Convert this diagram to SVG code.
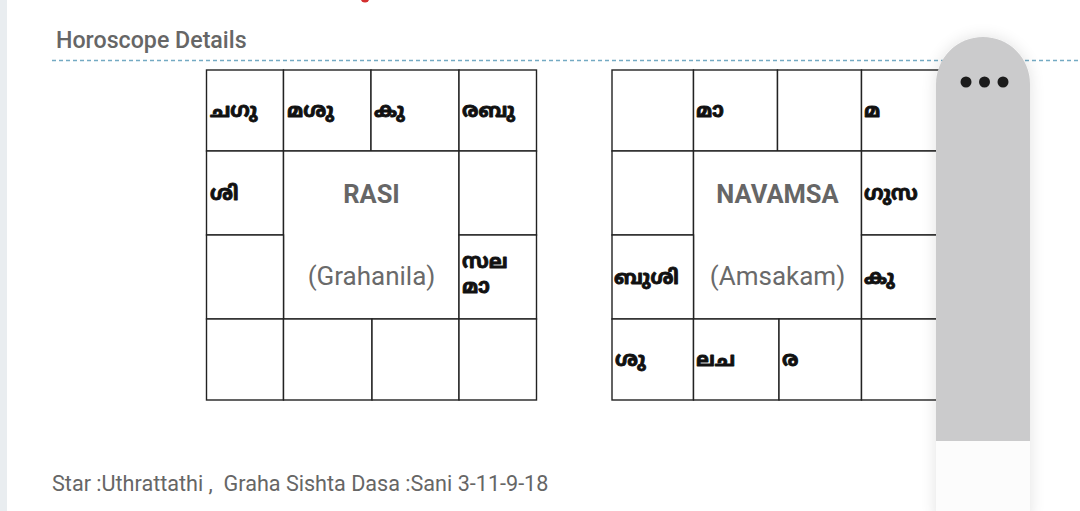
<svg xmlns="http://www.w3.org/2000/svg" width="1080" height="511" viewBox="0 0 1080 511">
<style>
.cell{fill:#ffffff;stroke:#222222;stroke-width:1.4}
.ml{font-family:"Noto Sans Malayalam","Noto Sans","DejaVu Sans",sans-serif;font-weight:bold;font-size:20px;fill:#111111;stroke:#111111;stroke-width:0.9;stroke-linejoin:round}
.title{font-family:Roboto,"Liberation Sans",sans-serif;font-weight:bold;font-size:25.5px;fill:#666666;text-anchor:middle}
.sub{font-family:Roboto,"Liberation Sans",sans-serif;font-size:26px;fill:#6a6a6a;text-anchor:middle}
.head{font-family:Roboto,"Liberation Sans",sans-serif;font-weight:500;font-size:23.2px;fill:#666666}
.foot{font-family:Roboto,"Liberation Sans",sans-serif;font-size:21.6px;fill:#666666;white-space:pre}
</style>
<defs>
<filter id="shadow" x="-50%" y="-20%" width="200%" height="140%">
<feGaussianBlur in="SourceAlpha" stdDeviation="8"/>
<feComponentTransfer><feFuncA type="linear" slope="0.12"/></feComponentTransfer>
<feMerge><feMergeNode/><feMergeNode in="SourceGraphic"/></feMerge>
</filter>
</defs>
<rect x="0" y="0" width="1080" height="511" fill="#ffffff"/>
<rect x="0" y="0" width="7" height="511" fill="#e9edf0"/>
<circle cx="365" cy="-2" r="4.5" fill="#d32f2f"/>
<g id="header">
<text class="head" x="56" y="48">Horoscope Details</text>
<line x1="52" y1="60.5" x2="1080" y2="60.5" stroke="#74aac3" stroke-width="1.7" stroke-dasharray="4 3"/>
</g>
<g id="rasi-chart">
<g id="rasi-r1c1"><rect class="cell" x="206.5" y="70" width="77" height="81"/><text class="ml" x="210" y="117">ചഗു</text></g>
<g id="rasi-r1c2"><rect class="cell" x="283.5" y="70" width="87.5" height="81"/><text class="ml" x="287" y="117">മശു</text></g>
<g id="rasi-r1c3"><rect class="cell" x="371" y="70" width="88" height="81"/><text class="ml" x="374" y="117">കു</text></g>
<g id="rasi-r1c4"><rect class="cell" x="459" y="70" width="77.5" height="81"/><text class="ml" x="462" y="117">രബു</text></g>
<g id="rasi-r2c1"><rect class="cell" x="206.5" y="151" width="77" height="84"/><text class="ml" x="210" y="200">ശി</text></g>
<g id="rasi-center"><rect class="cell" x="283.5" y="151" width="175.5" height="168"/><text class="title" x="371.5" y="203">RASI</text><text class="sub" x="371.5" y="285">(Grahanila)</text></g>
<g id="rasi-r2c4"><rect class="cell" x="459" y="151" width="77.5" height="84"/></g>
<g id="rasi-r3c1"><rect class="cell" x="206.5" y="235" width="77" height="84"/></g>
<g id="rasi-r3c4"><rect class="cell" x="459" y="235" width="77.5" height="84"/><text class="ml" x="462" y="268">സല</text><text class="ml" x="462" y="293">മാ</text></g>
<g id="rasi-r4c1"><rect class="cell" x="206.5" y="319" width="77" height="81"/></g>
<g id="rasi-r4c2"><rect class="cell" x="283.5" y="319" width="88.5" height="81"/></g>
<g id="rasi-r4c3"><rect class="cell" x="372" y="319" width="87" height="81"/></g>
<g id="rasi-r4c4"><rect class="cell" x="459" y="319" width="77.5" height="81"/></g>
</g>
<g id="navamsa-chart">
<g id="nav-r1c1"><rect class="cell" x="612" y="70" width="81.5" height="81"/></g>
<g id="nav-r1c2"><rect class="cell" x="693.5" y="70" width="84" height="81"/><text class="ml" x="696" y="117">മാ</text></g>
<g id="nav-r1c3"><rect class="cell" x="777.5" y="70" width="84" height="81"/></g>
<g id="nav-r1c4"><rect class="cell" x="861.5" y="70" width="80" height="81"/><text class="ml" x="864" y="117">മ</text></g>
<g id="nav-r2c1"><rect class="cell" x="612" y="151" width="81.5" height="84"/></g>
<g id="nav-center"><rect class="cell" x="693.5" y="151" width="168" height="168"/><text class="title" x="777.5" y="203">NAVAMSA</text><text class="sub" x="777.5" y="285">(Amsakam)</text></g>
<g id="nav-r2c4"><rect class="cell" x="861.5" y="151" width="80" height="84"/><text class="ml" x="864" y="200">ഗുസ</text></g>
<g id="nav-r3c1"><rect class="cell" x="612" y="235" width="81.5" height="84"/><text class="ml" x="614" y="284">ബുശി</text></g>
<g id="nav-r3c4"><rect class="cell" x="861.5" y="235" width="80" height="84"/><text class="ml" x="864" y="284">കു</text></g>
<g id="nav-r4c1"><rect class="cell" x="612" y="319" width="81.5" height="81"/><text class="ml" x="615" y="366">ശു</text></g>
<g id="nav-r4c2"><rect class="cell" x="693.5" y="319" width="85.5" height="81"/><text class="ml" x="696" y="366">ലച</text></g>
<g id="nav-r4c3"><rect class="cell" x="779" y="319" width="82.5" height="81"/><text class="ml" x="782" y="366">ര</text></g>
<g id="nav-r4c4"><rect class="cell" x="861.5" y="319" width="80" height="81"/></g>
</g>
<g id="connectors"></g>
<g id="footer">
<text class="foot" x="52" y="491" xml:space="preserve">Star :Uthrattathi ,  Graha Sishta Dasa :Sani 3-11-9-18</text>
</g>
<g id="overlay" filter="url(#shadow)">
<path d="M936,84 A47,47 0 0 1 1030,84 V441 H936 Z" fill="#cbcbcc"/>
<rect x="936" y="441" width="94" height="80" fill="#fcfcfc"/>
<circle cx="966" cy="82" r="5.5" fill="#1e1e1e"/>
<circle cx="984.5" cy="82" r="5.5" fill="#1e1e1e"/>
<circle cx="1003" cy="82" r="5.5" fill="#1e1e1e"/>
</g>
</svg>
